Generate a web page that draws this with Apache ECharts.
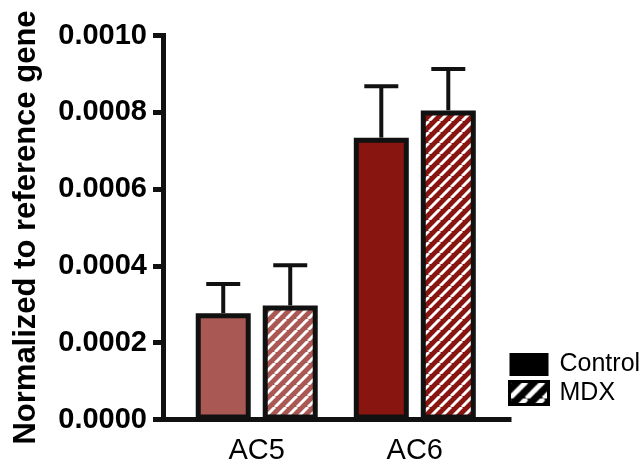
<!DOCTYPE html>
<html>
<head>
<meta charset="utf-8">
<script src="https://cdn.jsdelivr.net/npm/echarts@6/dist/echarts.min.js"></script>
<style>html,body{margin:0;padding:0;background:#fff;}#chart{width:643px;height:466px;}</style>
</head>
<body>
<div id="chart"></div>
<script>
// ---- data ----
const categories = ['AC5', 'AC6'];
const seriesNames = ['Control', 'MDX'];
const controlMean = [0.000277, 0.000734];
const controlUpper = [0.000353, 0.000868];
const mdxMean = [0.000297, 0.000805];
const mdxUpper = [0.000402, 0.000913];
const yTicks = [0, 0.0002, 0.0004, 0.0006, 0.0008, 0.0010];

// ---- styles ----
const FONT = "'Liberation Sans', Arial, Helvetica, sans-serif";
const catColors = ['#a95853', '#88150f'];
const BAR_W = 55, BAR_GAP_PX = 12, BORDER = 5;

function stripes(bg, s, w) {
  const c = document.createElement('canvas');
  c.width = s; c.height = s;
  const g = c.getContext('2d');
  g.fillStyle = bg; g.fillRect(0, 0, s, s);
  g.strokeStyle = '#ffffff'; g.lineWidth = w;
  for (let k = -1; k <= 1; k++) {
    g.beginPath();
    g.moveTo(k * s, s);
    g.lineTo((k + 1) * s, 0);
    g.stroke();
  }
  return { image: c, repeat: 'repeat' };
}

const positions = categories.map((c, i) => i + 1);

function barData(means, hatched) {
  return means.map((v, i) => ({
    value: [positions[i], v],
    itemStyle: { color: hatched ? stripes(catColors[i], 11, 3) : catColors[i] }
  }));
}

function errData(means, uppers) {
  return means.map((v, i) => [positions[i], v, uppers[i]]);
}

function errRender(offsetPx) {
  return function (params, api) {
    const x = api.value(0);
    const base = api.coord([x, api.value(1)]);
    const top = api.coord([x, api.value(2)]);
    const cx = base[0] + offsetPx;
    const half = 17;
    return {
      type: 'group',
      children: [
        { type: 'line', shape: { x1: cx, y1: base[1], x2: cx, y2: top[1] },
          style: { stroke: '#111', lineWidth: 4 } },
        { type: 'line', shape: { x1: cx - half, y1: top[1], x2: cx + half, y2: top[1] },
          style: { stroke: '#111', lineWidth: 4 } }
      ]
    };
  };
}

const off = (BAR_W + BAR_GAP_PX) / 2;

const chart = echarts.init(document.getElementById('chart'), null, { renderer: 'canvas' });
chart.setOption({
  animation: false,
  backgroundColor: '#ffffff',
  grid: { left: 163, right: 134, top: 35.5, bottom: 46.5, containLabel: false },
  legend: {
    orient: 'vertical',
    left: 508, top: 352, padding: 0,
    itemWidth: 39, itemHeight: 23, itemGap: 3,
    icon: 'rect',
    textStyle: { fontFamily: FONT, fontSize: 25, color: '#000', lineHeight: 23, padding: [0, 0, 0, 6] },
    data: [
      { name: seriesNames[0], itemStyle: { color: '#000', borderWidth: 0 } },
      { name: seriesNames[1], itemStyle: { color: stripes('#000', 17, 5), borderColor: '#000', borderWidth: 3 } }
    ]
  },
  xAxis: {
    type: 'value',
    min: 0.407, max: 2.596,
    splitLine: { show: false },
    axisLine: { show: true, lineStyle: { color: '#111', width: 5, cap: 'square' } },
    axisTick: { show: false },
    axisLabel: {
      customValues: positions,
      formatter: v => categories[Math.round(v) - 1] || '',
      fontFamily: FONT, fontSize: 29, color: '#000', margin: 17
    }
  },
  yAxis: {
    type: 'value',
    min: 0, max: 0.0010, interval: 0.0002,
    splitLine: { show: false },
    axisLine: { show: true, lineStyle: { color: '#111', width: 5, cap: 'square' } },
    axisTick: { show: true, length: 10, lineStyle: { color: '#111', width: 5 } },
    axisLabel: {
      formatter: v => v.toFixed(4),
      fontFamily: FONT, fontSize: 29, fontWeight: 'bold', color: '#000', margin: 16
    },
    name: 'Normalized to reference gene',
    nameLocation: 'middle',
    nameGap: 121,
    nameTextStyle: { fontFamily: FONT, fontSize: 31, fontWeight: 'bold', color: '#000' }
  },
  series: [
    {
      name: seriesNames[0], type: 'bar', barWidth: BAR_W,
      barGap: (BAR_GAP_PX / BAR_W * 100) + '%',
      itemStyle: { color: '#000', borderColor: '#111', borderWidth: BORDER },
      data: barData(controlMean, false), z: 3
    },
    {
      name: seriesNames[1], type: 'bar', barWidth: BAR_W,
      barGap: (BAR_GAP_PX / BAR_W * 100) + '%',
      itemStyle: { color: '#000', borderColor: '#111', borderWidth: BORDER },
      data: barData(mdxMean, true), z: 3
    },
    {
      type: 'custom', name: 'errC', renderItem: errRender(-off), z: 1,
      data: errData(controlMean, controlUpper), silent: true
    },
    {
      type: 'custom', name: 'errM', renderItem: errRender(off), z: 1,
      data: errData(mdxMean, mdxUpper), silent: true
    }
  ]
});
</script>
</body>
</html>
